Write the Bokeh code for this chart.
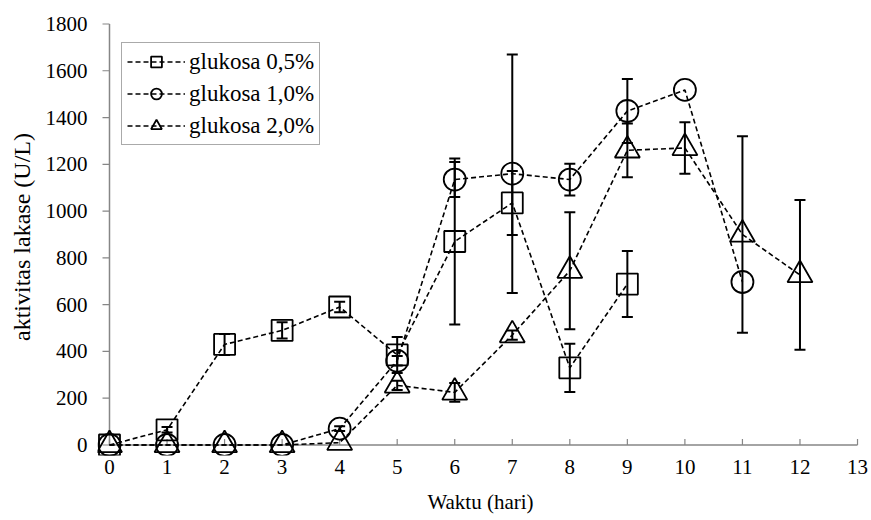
import math
from bokeh.plotting import figure
from bokeh.models import (Range1d, LinearAxis, FixedTicker, ColumnDataSource, Whisker,
                          TeeHead, Legend, LegendItem)
from bokeh.embed import file_html
from bokeh.resources import INLINE

# ---- data ----
days_05 = [0, 1, 2, 3, 4, 5, 6, 7, 8, 9]
act_05 = [0, 65, 430, 490, 590, 385, 870, 1035, 330, 688]
err_05 = [0, 12, 45, 35, 22, 77, 355, 137, 103, 141]

days_10 = [0, 1, 2, 3, 4, 5, 6, 7, 8, 9, 10, 11]
act_10 = [0, 0, 0, 0, 70, 360, 1135, 1160, 1135, 1428, 1518, 697]
err_10 = [0, 0, 0, 0, 10, 20, 75, 510, 68, 137, 0, 0]

days_20 = [0, 1, 2, 3, 4, 5, 6, 7, 8, 9, 10, 11, 12]
act_20 = [0, 0, 0, 0, 10, 255, 225, 470, 745, 1260, 1270, 900, 727]
err_20 = [0, 0, 0, 0, 0, 20, 40, 20, 250, 115, 110, 420, 320]

labels = ["glukosa 0,5%", "glukosa 1,0%", "glukosa 2,0%"]
markers = ["square", "circle", "triangle"]
x_ticks = list(range(0, 14))
y_ticks = list(range(0, 1801, 200))

FONT = "Liberation Serif"
FS = "21px"
AX = "#868686"

p = figure(width=871, height=520, output_backend="svg", toolbar_location=None,
           x_range=Range1d(-0.2085, 13.104), y_range=Range1d(-44.9, 1823.5),
           x_axis_type=None, y_axis_type=None,
           min_border_left=97, min_border_right=8, min_border_top=18, min_border_bottom=65)
p.grid.visible = False
p.outline_line_color = None
p.background_fill_color = "white"
p.border_fill_color = "white"

# axis lines and ticks drawn at the zero lines
p.segment(x0=[x_ticks[0]], y0=[y_ticks[0]], x1=[x_ticks[-1]], y1=[y_ticks[0]],
          line_color=AX, line_width=1.5)
p.segment(x0=[x_ticks[0]], y0=[y_ticks[0]], x1=[x_ticks[0]], y1=[y_ticks[-1]],
          line_color=AX, line_width=1.5)
p.ray(x=x_ticks, y=[y_ticks[0]] * len(x_ticks), length=6, length_units="screen",
      angle=math.pi / 2, line_color=AX, line_width=1.2)
p.ray(x=[x_ticks[0]] * len(y_ticks), y=y_ticks, length=7, length_units="screen",
      angle=math.pi, line_color=AX, line_width=1.2)

# label-only axes
xa = LinearAxis(ticker=FixedTicker(ticks=x_ticks), axis_line_color=None,
                major_tick_line_color=None, minor_tick_line_color=None,
                major_tick_in=0, major_tick_out=0,
                major_label_text_font=FONT, major_label_text_font_size=FS,
                major_label_text_color="black", major_label_standoff=4,
                axis_label="Waktu (hari)", axis_label_text_font=FONT,
                axis_label_text_font_size=FS, axis_label_text_font_style="normal",
                axis_label_text_color="black", axis_label_standoff=13)
p.add_layout(xa, "below")
ya = LinearAxis(ticker=FixedTicker(ticks=y_ticks), axis_line_color=None,
                major_tick_line_color=None, minor_tick_line_color=None,
                major_tick_in=0, major_tick_out=0,
                major_label_text_font=FONT, major_label_text_font_size=FS,
                major_label_text_color="black", major_label_standoff=10,
                axis_label="aktivitas lakase (U/L)", axis_label_text_font=FONT,
                axis_label_text_font_size="24px", axis_label_text_font_style="normal",
                axis_label_text_color="black", axis_label_standoff=8)
p.add_layout(ya, "left")

series = [(days_05, act_05, err_05), (days_10, act_10, err_10), (days_20, act_20, err_20)]
sizes = {"square": 21, "circle": 22, "triangle": 25}
items = []
for (d, a, e), lab, mk in zip(series, labels, markers):
    src = ColumnDataSource(dict(x=d, y=a))
    lr = p.line("x", "y", source=src, line_color="black", line_width=1.6, line_dash="5 3")
    sr = p.scatter("x", "y", source=src, marker=mk, size=sizes[mk], fill_color=None,
                   line_color="black", line_width=1.8)
    ex = [xi for xi, ei in zip(d, e) if ei > 0]
    lo = [yi - ei for yi, ei in zip(a, e) if ei > 0]
    hi = [yi + ei for yi, ei in zip(a, e) if ei > 0]
    esrc = ColumnDataSource(dict(x=ex, lower=lo, upper=hi))
    w = Whisker(source=esrc, base="x", lower="lower", upper="upper", dimension="height",
                line_color="black", line_width=2,
                upper_head=TeeHead(size=11, line_width=2, line_color="black"),
                lower_head=TeeHead(size=11, line_width=2, line_color="black"))
    p.add_layout(w)
    items.append(LegendItem(label=lab, renderers=[lr, sr]))

legend = Legend(items=items, location="top_left", margin=24, padding=5, spacing=5,
                glyph_width=58, glyph_height=27, label_standoff=4,
                label_text_font=FONT, label_text_font_size="23px", label_text_color="black",
                border_line_color="#555555", border_line_width=1.2,
                background_fill_color="white", background_fill_alpha=1.0)
p.add_layout(legend)

open("out.html", "w").write(file_html(p, INLINE))
